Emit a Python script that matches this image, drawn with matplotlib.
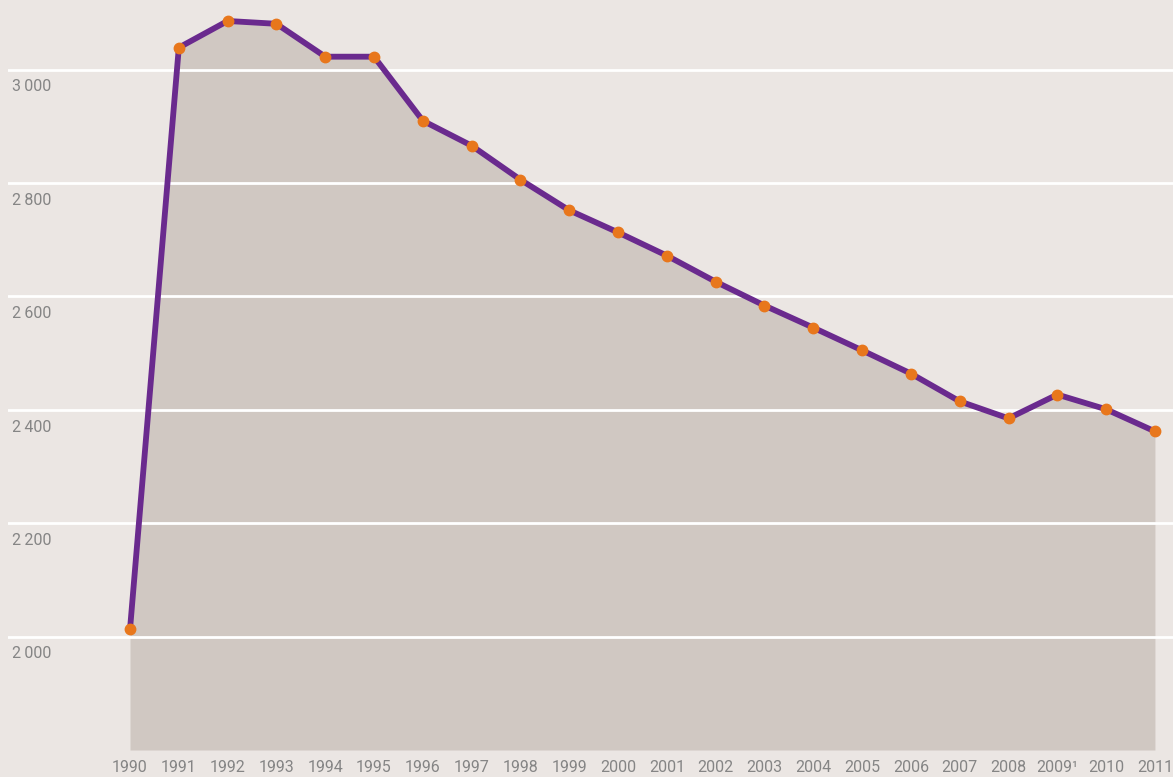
import matplotlib
matplotlib.use("Agg")
import matplotlib.pyplot as plt
from matplotlib import font_manager

years = list(range(1990, 2012))
values = [2013, 3039, 3086, 3081, 3023, 3023, 2910, 2866, 2806, 2752, 2713,
          2672, 2626, 2584, 2545, 2505, 2464, 2415, 2385, 2427, 2401, 2362]
xtick_labels = [str(y) for y in years]
xtick_labels[years.index(2009)] = "2009\u00b9"
ytick_values = [2000, 2200, 2400, 2600, 2800, 3000]
ytick_labels = ["2\u2009000", "2\u2009200", "2\u2009400", "2\u2009600", "2\u2009800", "3\u2009000"]

names = {f.name for f in font_manager.fontManager.ttflist}
fam = [f for f in ["Liberation Sans Narrow", "Roboto", "DejaVu Sans"] if f in names]
plt.rcParams['font.family'] = fam + ["DejaVu Sans"]

bg = "#ebe6e3"
fill_c = "#d0c8c2"
line_c = "#6a2a8e"
mark_c = "#e8771c"
text_c = "#858585"

fig = plt.figure(figsize=(11.73, 7.77), dpi=100, facecolor=bg)
ax = fig.add_axes([8/1173, 27/777, 1165/1173, 750/777])
ax.set_facecolor(bg)
ymin, ymax = 1800, 3123
ax.set_xlim(1987.5, 2011.37)
ax.set_ylim(ymin, ymax)

ax.fill_between(years, values, ymin, color=fill_c, zorder=1, linewidth=0)
for v in ytick_values:
    ax.axhline(v, color="white", lw=2, zorder=2)
ax.plot(years, values, color=line_c, lw=4.2, zorder=3, solid_capstyle="round",
        solid_joinstyle="round")
ax.plot(years, values, 'o', color=mark_c, ms=7.5, zorder=4)

for v, lab in zip(ytick_values, ytick_labels):
    ax.annotate(lab, xy=(0, v), xycoords=("axes fraction", "data"),
                xytext=(3, -7), textcoords="offset points",
                ha="left", va="top", color=text_c, fontsize=11.5)

ax.set_xticks(years)
ax.set_xticklabels(xtick_labels, fontsize=11.5, color=text_c)
ax.tick_params(axis="x", length=0, pad=7)
ax.set_yticks([])
for s in ax.spines.values():
    s.set_visible(False)

fig.savefig("out.png", dpi=100, facecolor=bg)
